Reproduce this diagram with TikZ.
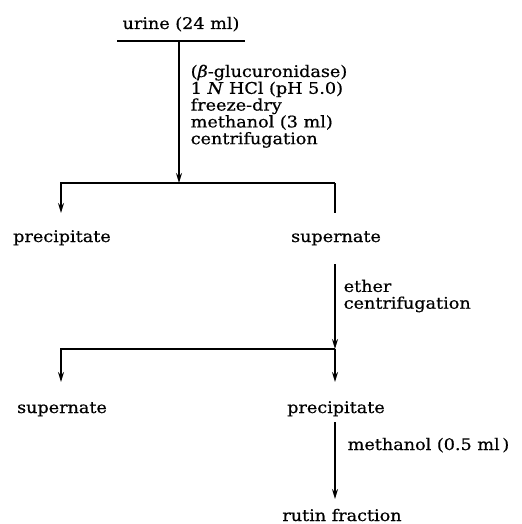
\documentclass[tikz,border=0pt]{standalone}
\usepackage{fontspec}
\setmainfont{DejaVu Serif}[FakeStretch=1.1, FakeBold=0.6]
\usetikzlibrary{arrows.meta, positioning}

\begin{document}
\begin{tikzpicture}[x=1bp, y=-1bp, line width=1.5bp,
    font=\fontsize{16bp}{16.8bp}\selectfont,
    flow/.style={-{Stealth[length=10bp, width=6bp]}},
    cond/.style={anchor=north west, inner sep=0pt, align=left},
    product/.style={anchor=base, inner sep=0pt}]
  \useasboundingbox (0,0) rectangle (522,524);
  % urine, first treatment
  \node[product] (urine) at (181,29) {urine (24 ml)};
  \coordinate (barL) at (117,41);
  \coordinate (barR) at (245,41);
  \coordinate (top) at (179,41);
  \coordinate (fork1) at (179,183);
  \draw (barL) -- (barR);
  \draw[flow] (top) -- (fork1);
  \node[cond] (treat1) at (190,64) {(\textit{β}-glucuronidase)\\1 \textit{N} HCl (pH 5.0)\\freeze-dry\\methanol (3 ml)\\centrifugation};
  % first split
  \coordinate (fork1L) at (61,183);
  \coordinate (fork1R) at (335,183);
  \coordinate (prec1in) at (61,213);
  \coordinate (sup1in) at (335,213);
  \node[product] (prec1) at (62,242) {precipitate};
  \node[product] (sup1) at (336,242) {supernate};
  \draw[flow] (fork1R) -- (fork1L) -- (prec1in);
  \draw (fork1R) -- (sup1in);
  % ether step
  \coordinate (sup1out) at (335,264);
  \coordinate (fork2) at (335,349);
  \draw[flow] (sup1out) -- (fork2);
  \node[cond] (treat2) at (343,279) {ether\\centrifugation};
  % second split
  \coordinate (fork2L) at (61,349);
  \coordinate (sup2in) at (61,382);
  \coordinate (prec2in) at (335,382);
  \node[product] (sup2) at (62,413) {supernate};
  \node[product] (prec2) at (336,413) {precipitate};
  \draw[flow] (fork2) -- (fork2L) -- (sup2in);
  \draw[flow] (fork2) -- (prec2in);
  % methanol step
  \coordinate (prec2out) at (335,422);
  \coordinate (rutinin) at (335,499);
  \draw[flow] (prec2out) -- (rutinin);
  \node[cond, anchor=base west] (treat3) at (347,450) {methanol (0.5 ml\,)};
  \node[product] (rutin) at (342,521) {rutin fraction};
\end{tikzpicture}
\end{document}
